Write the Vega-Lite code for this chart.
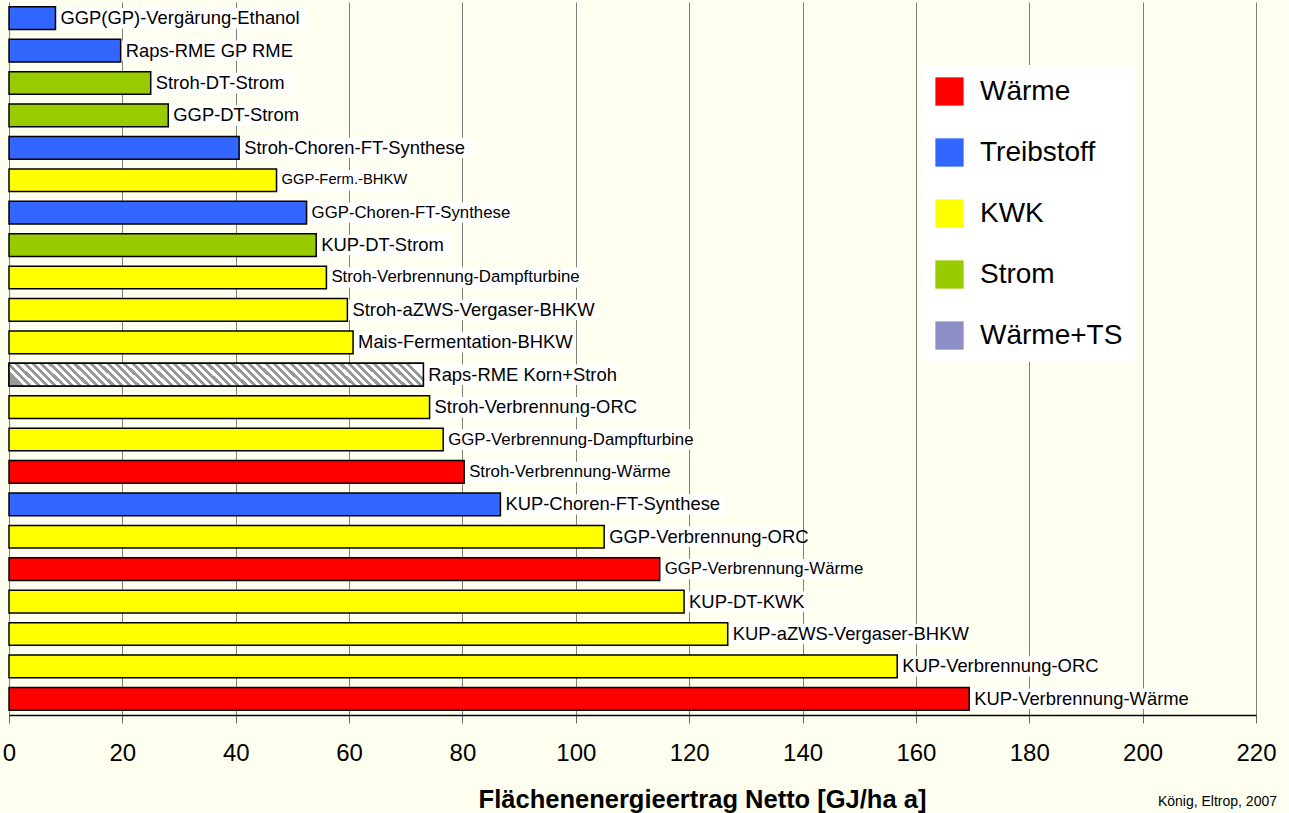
{
  "$schema": "https://vega.github.io/schema/vega-lite/v6.json",
  "width": 1247,
  "height": 713,
  "autosize": {"type": "none"},
  "padding": {"left": 9, "top": 2, "right": 33, "bottom": 98},
  "background": "#FFFFF0",
  "config": {"font": "Liberation Sans", "view": {"stroke": null}},
  "title": {"text": "König, Eltrop, 2007", "orient": "bottom", "anchor": "end", "fontSize": 14, "fontWeight": "normal", "color": "#000", "dx": 1, "dy": -22},
  "data": {"values": [
    {"name": "GGP(GP)-Vergärung-Ethanol", "value": 8.2, "cat": "Treibstoff"},
    {"name": "Raps-RME GP RME", "value": 19.7, "cat": "Treibstoff"},
    {"name": "Stroh-DT-Strom", "value": 25.0, "cat": "Strom"},
    {"name": "GGP-DT-Strom", "value": 28.1, "cat": "Strom"},
    {"name": "Stroh-Choren-FT-Synthese", "value": 40.6, "cat": "Treibstoff"},
    {"name": "GGP-Ferm.-BHKW", "value": 47.2, "cat": "KWK"},
    {"name": "GGP-Choren-FT-Synthese", "value": 52.5, "cat": "Treibstoff"},
    {"name": "KUP-DT-Strom", "value": 54.2, "cat": "Strom"},
    {"name": "Stroh-Verbrennung-Dampfturbine", "value": 56.0, "cat": "KWK"},
    {"name": "Stroh-aZWS-Vergaser-BHKW", "value": 59.7, "cat": "KWK"},
    {"name": "Mais-Fermentation-BHKW", "value": 60.7, "cat": "KWK"},
    {"name": "Raps-RME Korn+Stroh", "value": 73.1, "cat": "Wärme+TS"},
    {"name": "Stroh-Verbrennung-ORC", "value": 74.2, "cat": "KWK"},
    {"name": "GGP-Verbrennung-Dampfturbine", "value": 76.6, "cat": "KWK"},
    {"name": "Stroh-Verbrennung-Wärme", "value": 80.3, "cat": "Wärme"},
    {"name": "KUP-Choren-FT-Synthese", "value": 86.7, "cat": "Treibstoff"},
    {"name": "GGP-Verbrennung-ORC", "value": 105.0, "cat": "KWK"},
    {"name": "GGP-Verbrennung-Wärme", "value": 114.8, "cat": "Wärme"},
    {"name": "KUP-DT-KWK", "value": 119.1, "cat": "KWK"},
    {"name": "KUP-aZWS-Vergaser-BHKW", "value": 126.8, "cat": "KWK"},
    {"name": "KUP-Verbrennung-ORC", "value": 156.7, "cat": "KWK"},
    {"name": "KUP-Verbrennung-Wärme", "value": 169.4, "cat": "Wärme"}
  ]},
  "transform": [
    {"calculate": "datum.name === 'GGP-Ferm.-BHKW' ? 14.8 : (indexof(['GGP-Choren-FT-Synthese','Stroh-Verbrennung-Dampfturbine','GGP-Verbrennung-Dampfturbine','Stroh-Verbrennung-Wärme','GGP-Verbrennung-Wärme'], datum.name) >= 0 ? 16.8 : 18.4)", "as": "fs"},
    {"calculate": "datum.value + (11 + datum.fs * (0.47 * length(datum.name) + 0.18 * length(replace(datum.name, regexp('[^A-Z]', 'g'), '')))) / 5.668", "as": "bgEnd"}
  ],
  "encoding": {
    "y": {"field": "name", "type": "nominal", "sort": {"field": "value", "op": "sum", "order": "ascending"}, "axis": null, "scale": {"paddingInner": 0.3, "paddingOuter": 0.15}}
  },
  "layer": [
    {
      "mark": {"type": "bar", "fill": "white", "height": {"band": 0.9}},
      "encoding": {
        "x": {"field": "value", "type": "quantitative", "scale": {"domain": [0, 220], "nice": false, "zero": true},
          "axis": {"values": [0, 20, 40, 60, 80, 100, 120, 140, 160, 180, 200, 220], "format": "d",
            "title": "Flächenenergieertrag Netto [GJ/ha a]", "titleFontSize": 25.5, "titleFontWeight": "bold", "titleColor": "#000",
            "titleX": 693, "titleY": 92, "titleAlign": "center", "titleBaseline": "alphabetic", "titleAnchor": null,
            "labelFontSize": 24, "labelColor": "#000", "labelPadding": 18, "labelFlush": false, "labelOverlap": false,
            "tickSize": 8, "tickColor": "#666", "tickWidth": 1, "domainColor": "#000", "domainWidth": 1.5,
            "grid": true, "gridColor": "#7f7f7f", "gridWidth": 1}},
        "x2": {"field": "bgEnd"}
      }
    },
    {
      "mark": {"type": "bar", "stroke": "black", "strokeWidth": 1.5},
      "encoding": {
        "x": {"field": "value", "type": "quantitative"},
        "color": {"field": "cat", "type": "nominal",
          "scale": {"domain": ["Wärme", "Treibstoff", "KWK", "Strom", "Wärme+TS"], "range": ["#FF0000", "#3366FF", "#FFFF00", "#99CC00", "#8F8FC8"]},
          "legend": {"title": null, "orient": "none", "legendX": 914, "legendY": 63, "direction": "vertical",
            "symbolType": "square", "symbolSize": 800, "labelFontSize": 28, "labelColor": "#000", "labelOffset": 16,
            "rowPadding": 32, "padding": 12, "fillColor": "white", "strokeColor": null, "labelLimit": 300,
            "symbolStrokeWidth": 0, "symbolOpacity": 1}}
      }
    },
    {
      "mark": {"type": "bar", "stroke": "black", "strokeWidth": 1.5,
        "fill": {"gradient": "linear", "x1": 0, "y1": 0.5, "x2": 1, "y2": 0.444, "stops": [
          {"offset":0,"color":"#999"},{"offset":0.01,"color":"#999"},{"offset":0.01,"color":"#fff"},{"offset":0.02,"color":"#fff"},
          {"offset":0.02,"color":"#999"},{"offset":0.03,"color":"#999"},{"offset":0.03,"color":"#fff"},{"offset":0.04,"color":"#fff"},
          {"offset":0.04,"color":"#999"},{"offset":0.05,"color":"#999"},{"offset":0.05,"color":"#fff"},{"offset":0.06,"color":"#fff"},
          {"offset":0.06,"color":"#999"},{"offset":0.07,"color":"#999"},{"offset":0.07,"color":"#fff"},{"offset":0.08,"color":"#fff"},
          {"offset":0.08,"color":"#999"},{"offset":0.09,"color":"#999"},{"offset":0.09,"color":"#fff"},{"offset":0.10,"color":"#fff"},
          {"offset":0.10,"color":"#999"},{"offset":0.11,"color":"#999"},{"offset":0.11,"color":"#fff"},{"offset":0.12,"color":"#fff"},
          {"offset":0.12,"color":"#999"},{"offset":0.13,"color":"#999"},{"offset":0.13,"color":"#fff"},{"offset":0.14,"color":"#fff"},
          {"offset":0.14,"color":"#999"},{"offset":0.15,"color":"#999"},{"offset":0.15,"color":"#fff"},{"offset":0.16,"color":"#fff"},
          {"offset":0.16,"color":"#999"},{"offset":0.17,"color":"#999"},{"offset":0.17,"color":"#fff"},{"offset":0.18,"color":"#fff"},
          {"offset":0.18,"color":"#999"},{"offset":0.19,"color":"#999"},{"offset":0.19,"color":"#fff"},{"offset":0.20,"color":"#fff"},
          {"offset":0.20,"color":"#999"},{"offset":0.21,"color":"#999"},{"offset":0.21,"color":"#fff"},{"offset":0.22,"color":"#fff"},
          {"offset":0.22,"color":"#999"},{"offset":0.23,"color":"#999"},{"offset":0.23,"color":"#fff"},{"offset":0.24,"color":"#fff"},
          {"offset":0.24,"color":"#999"},{"offset":0.25,"color":"#999"},{"offset":0.25,"color":"#fff"},{"offset":0.26,"color":"#fff"},
          {"offset":0.26,"color":"#999"},{"offset":0.27,"color":"#999"},{"offset":0.27,"color":"#fff"},{"offset":0.28,"color":"#fff"},
          {"offset":0.28,"color":"#999"},{"offset":0.29,"color":"#999"},{"offset":0.29,"color":"#fff"},{"offset":0.30,"color":"#fff"},
          {"offset":0.30,"color":"#999"},{"offset":0.31,"color":"#999"},{"offset":0.31,"color":"#fff"},{"offset":0.32,"color":"#fff"},
          {"offset":0.32,"color":"#999"},{"offset":0.33,"color":"#999"},{"offset":0.33,"color":"#fff"},{"offset":0.34,"color":"#fff"},
          {"offset":0.34,"color":"#999"},{"offset":0.35,"color":"#999"},{"offset":0.35,"color":"#fff"},{"offset":0.36,"color":"#fff"},
          {"offset":0.36,"color":"#999"},{"offset":0.37,"color":"#999"},{"offset":0.37,"color":"#fff"},{"offset":0.38,"color":"#fff"},
          {"offset":0.38,"color":"#999"},{"offset":0.39,"color":"#999"},{"offset":0.39,"color":"#fff"},{"offset":0.40,"color":"#fff"},
          {"offset":0.40,"color":"#999"},{"offset":0.41,"color":"#999"},{"offset":0.41,"color":"#fff"},{"offset":0.42,"color":"#fff"},
          {"offset":0.42,"color":"#999"},{"offset":0.43,"color":"#999"},{"offset":0.43,"color":"#fff"},{"offset":0.44,"color":"#fff"},
          {"offset":0.44,"color":"#999"},{"offset":0.45,"color":"#999"},{"offset":0.45,"color":"#fff"},{"offset":0.46,"color":"#fff"},
          {"offset":0.46,"color":"#999"},{"offset":0.47,"color":"#999"},{"offset":0.47,"color":"#fff"},{"offset":0.48,"color":"#fff"},
          {"offset":0.48,"color":"#999"},{"offset":0.49,"color":"#999"},{"offset":0.49,"color":"#fff"},{"offset":0.50,"color":"#fff"},
          {"offset":0.50,"color":"#999"},{"offset":0.51,"color":"#999"},{"offset":0.51,"color":"#fff"},{"offset":0.52,"color":"#fff"},
          {"offset":0.52,"color":"#999"},{"offset":0.53,"color":"#999"},{"offset":0.53,"color":"#fff"},{"offset":0.54,"color":"#fff"},
          {"offset":0.54,"color":"#999"},{"offset":0.55,"color":"#999"},{"offset":0.55,"color":"#fff"},{"offset":0.56,"color":"#fff"},
          {"offset":0.56,"color":"#999"},{"offset":0.57,"color":"#999"},{"offset":0.57,"color":"#fff"},{"offset":0.58,"color":"#fff"},
          {"offset":0.58,"color":"#999"},{"offset":0.59,"color":"#999"},{"offset":0.59,"color":"#fff"},{"offset":0.60,"color":"#fff"},
          {"offset":0.60,"color":"#999"},{"offset":0.61,"color":"#999"},{"offset":0.61,"color":"#fff"},{"offset":0.62,"color":"#fff"},
          {"offset":0.62,"color":"#999"},{"offset":0.63,"color":"#999"},{"offset":0.63,"color":"#fff"},{"offset":0.64,"color":"#fff"},
          {"offset":0.64,"color":"#999"},{"offset":0.65,"color":"#999"},{"offset":0.65,"color":"#fff"},{"offset":0.66,"color":"#fff"},
          {"offset":0.66,"color":"#999"},{"offset":0.67,"color":"#999"},{"offset":0.67,"color":"#fff"},{"offset":0.68,"color":"#fff"},
          {"offset":0.68,"color":"#999"},{"offset":0.69,"color":"#999"},{"offset":0.69,"color":"#fff"},{"offset":0.70,"color":"#fff"},
          {"offset":0.70,"color":"#999"},{"offset":0.71,"color":"#999"},{"offset":0.71,"color":"#fff"},{"offset":0.72,"color":"#fff"},
          {"offset":0.72,"color":"#999"},{"offset":0.73,"color":"#999"},{"offset":0.73,"color":"#fff"},{"offset":0.74,"color":"#fff"},
          {"offset":0.74,"color":"#999"},{"offset":0.75,"color":"#999"},{"offset":0.75,"color":"#fff"},{"offset":0.76,"color":"#fff"},
          {"offset":0.76,"color":"#999"},{"offset":0.77,"color":"#999"},{"offset":0.77,"color":"#fff"},{"offset":0.78,"color":"#fff"},
          {"offset":0.78,"color":"#999"},{"offset":0.79,"color":"#999"},{"offset":0.79,"color":"#fff"},{"offset":0.80,"color":"#fff"},
          {"offset":0.80,"color":"#999"},{"offset":0.81,"color":"#999"},{"offset":0.81,"color":"#fff"},{"offset":0.82,"color":"#fff"},
          {"offset":0.82,"color":"#999"},{"offset":0.83,"color":"#999"},{"offset":0.83,"color":"#fff"},{"offset":0.84,"color":"#fff"},
          {"offset":0.84,"color":"#999"},{"offset":0.85,"color":"#999"},{"offset":0.85,"color":"#fff"},{"offset":0.86,"color":"#fff"},
          {"offset":0.86,"color":"#999"},{"offset":0.87,"color":"#999"},{"offset":0.87,"color":"#fff"},{"offset":0.88,"color":"#fff"},
          {"offset":0.88,"color":"#999"},{"offset":0.89,"color":"#999"},{"offset":0.89,"color":"#fff"},{"offset":0.90,"color":"#fff"},
          {"offset":0.90,"color":"#999"},{"offset":0.91,"color":"#999"},{"offset":0.91,"color":"#fff"},{"offset":0.92,"color":"#fff"},
          {"offset":0.92,"color":"#999"},{"offset":0.93,"color":"#999"},{"offset":0.93,"color":"#fff"},{"offset":0.94,"color":"#fff"},
          {"offset":0.94,"color":"#999"},{"offset":0.95,"color":"#999"},{"offset":0.95,"color":"#fff"},{"offset":0.96,"color":"#fff"},
          {"offset":0.96,"color":"#999"},{"offset":0.97,"color":"#999"},{"offset":0.97,"color":"#fff"},{"offset":0.98,"color":"#fff"},
          {"offset":0.98,"color":"#999"},{"offset":0.99,"color":"#999"},{"offset":0.99,"color":"#fff"},{"offset":1,"color":"#fff"}
        ]}},
      "encoding": {
        "x": {"field": "value", "type": "quantitative"},
        "opacity": {"condition": {"test": "datum.cat === 'Wärme+TS'", "value": 1}, "value": 0}
      }
    },
    {
      "mark": {"type": "text", "align": "left", "baseline": "middle", "dx": 5, "color": "#000"},
      "encoding": {
        "x": {"field": "value", "type": "quantitative"},
        "text": {"field": "name"},
        "size": {"field": "fs", "type": "quantitative", "scale": null}
      }
    }
  ]
}
